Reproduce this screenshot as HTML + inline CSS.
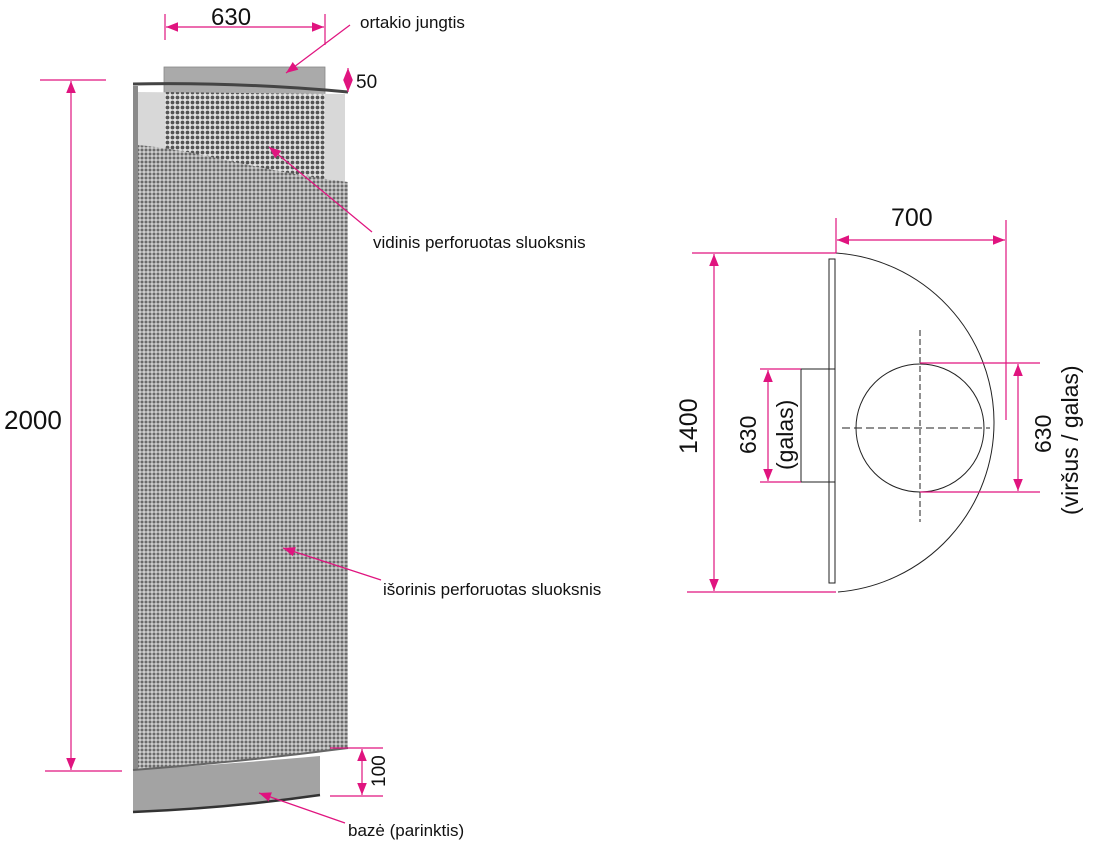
<!DOCTYPE html>
<html><head><meta charset="utf-8"><style>
html,body{margin:0;padding:0;background:#fff;}
svg{display:block;}
text{font-family:"Liberation Sans",sans-serif;fill:#111;}
</style></head><body>
<svg width="1097" height="851" viewBox="0 0 1097 851" xmlns="http://www.w3.org/2000/svg">
<defs>
<pattern id="perf" width="4" height="4" patternUnits="userSpaceOnUse">
<rect width="4" height="4" fill="#cfcfcf"/>
<circle cx="2" cy="2" r="1.5" fill="#6a6a6a"/>
</pattern>
<pattern id="perf2" width="5" height="5" patternUnits="userSpaceOnUse">
<rect width="5" height="5" fill="#e4e4e4"/>
<circle cx="2.5" cy="2.5" r="1.9" fill="#555"/>
</pattern>
<marker id="ar" viewBox="0 0 10 10" refX="10" refY="5" markerWidth="12" markerHeight="12" orient="auto-start-reverse" markerUnits="userSpaceOnUse">
<path d="M0,1 L10,5 L0,9 z" fill="#e0147f"/>
</marker>
</defs>

<rect x="164" y="67" width="161" height="28" fill="#aaa" stroke="#888" stroke-width="0.8"/>
<path d="M137,92 L345,94 L345,185 L137,185 z" fill="#d8d8d8"/>
<path d="M165,92 L325,94 L325,185 L165,185 z" fill="url(#perf2)"/>
<path d="M137,145 C200,150 250,170 348,182 L348,748 Q250,762 137,770 z" fill="url(#perf)"/>
<rect x="133" y="86" width="5" height="684" fill="#8a8a8a"/>
<path d="M133,84 Q240,82 348,92" stroke="#444" stroke-width="3" fill="none"/>
<path d="M133,770 Q230,764 320,756 L320,795 Q230,808 133,812 z" fill="#a3a3a3"/>
<path d="M133,770 Q240,762 348,748" stroke="#666" stroke-width="2" fill="none"/>
<path d="M133,812 Q230,808 320,795" stroke="#333" stroke-width="2.5" fill="none"/>

<g stroke="#e0147f" stroke-width="1.2" fill="none">
<line x1="165" y1="14" x2="165" y2="40"/><line x1="325" y1="14" x2="325" y2="45"/>
<line x1="166" y1="27" x2="324" y2="27" marker-start="url(#ar)" marker-end="url(#ar)"/>
<line x1="348" y1="68" x2="348" y2="92" marker-start="url(#ar)" marker-end="url(#ar)"/>
<line x1="40" y1="80" x2="106" y2="80"/><line x1="45" y1="771" x2="122" y2="771"/>
<line x1="71" y1="81" x2="71" y2="770" marker-start="url(#ar)" marker-end="url(#ar)"/>
<line x1="330" y1="748" x2="383" y2="748"/><line x1="330" y1="796" x2="383" y2="796"/>
<line x1="362" y1="749" x2="362" y2="795" marker-start="url(#ar)" marker-end="url(#ar)"/>
<line x1="350" y1="25" x2="286" y2="73" marker-end="url(#ar)"/>
<line x1="372" y1="232" x2="269" y2="147" marker-end="url(#ar)"/>
<line x1="381" y1="580" x2="283" y2="548" marker-end="url(#ar)"/>
<line x1="345" y1="823" x2="259" y2="793" marker-end="url(#ar)"/>
</g>
<text x="211" y="25" font-size="24">630</text>
<text x="356" y="88" font-size="19">50</text>
<text x="4" y="429" font-size="26">2000</text>
<text transform="translate(385,787) rotate(-90)" font-size="19">100</text>
<text x="360" y="28" font-size="17">ortakio jungtis</text>
<text x="373" y="248" font-size="17">vidinis perforuotas sluoksnis</text>
<text x="383" y="595" font-size="17">išorinis perforuotas sluoksnis</text>
<text x="348" y="836" font-size="17">bazė (parinktis)</text>

<g stroke="#222" stroke-width="1" fill="none">
<path d="M836,253 A170,170 0 0 1 838,592"/>
<rect x="829" y="259" width="6" height="324"/>
<rect x="801" y="369" width="34" height="113"/>
<circle cx="920" cy="428" r="64"/>
<line x1="842" y1="428" x2="990" y2="428" stroke-dasharray="8,4"/>
<line x1="920" y1="330" x2="920" y2="522" stroke-dasharray="6,3"/>
</g>
<g stroke="#e0147f" stroke-width="1.2" fill="none">
<line x1="836" y1="218" x2="836" y2="253"/><line x1="1006" y1="220" x2="1006" y2="420"/>
<line x1="837" y1="240" x2="1005" y2="240" marker-start="url(#ar)" marker-end="url(#ar)"/>
<line x1="692" y1="253" x2="836" y2="253"/><line x1="687" y1="592" x2="836" y2="592"/>
<line x1="714" y1="254" x2="714" y2="591" marker-start="url(#ar)" marker-end="url(#ar)"/>
<line x1="760" y1="369" x2="801" y2="369"/><line x1="760" y1="482" x2="801" y2="482"/>
<line x1="768" y1="370" x2="768" y2="481" marker-start="url(#ar)" marker-end="url(#ar)"/>
<line x1="920" y1="363" x2="1040" y2="363"/><line x1="920" y1="492" x2="1040" y2="492"/>
<line x1="1018" y1="364" x2="1018" y2="491" marker-start="url(#ar)" marker-end="url(#ar)"/>
</g>
<text x="891" y="226" font-size="25">700</text>
<text transform="translate(697,454) rotate(-90)" font-size="25">1400</text>
<text transform="translate(756,454) rotate(-90)" font-size="23">630</text>
<text transform="translate(793,470) rotate(-90)" font-size="23">(galas)</text>
<text transform="translate(1051,453) rotate(-90)" font-size="23">630</text>
<text transform="translate(1078,515) rotate(-90)" font-size="23">(viršus / galas)</text>
</svg>
</body></html>
